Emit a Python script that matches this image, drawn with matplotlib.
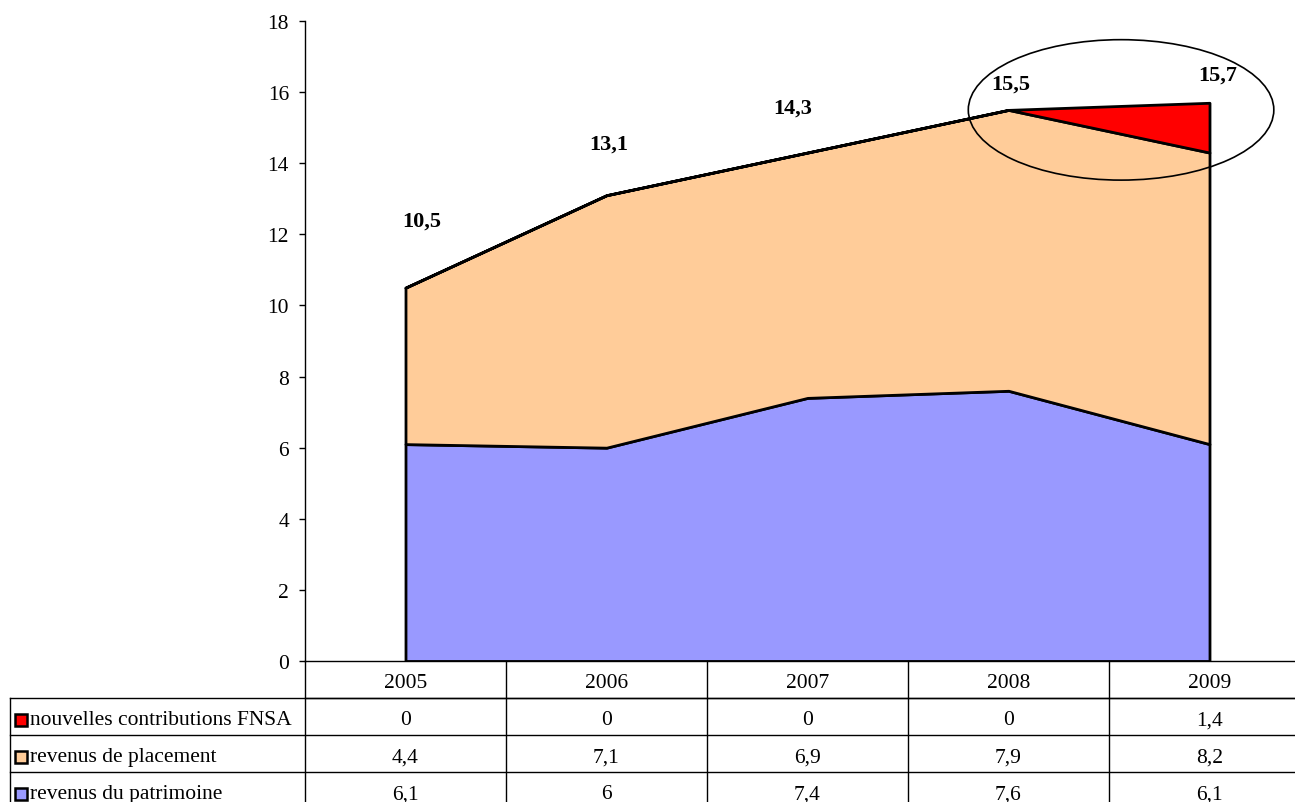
import matplotlib
matplotlib.use("Agg")
import matplotlib.pyplot as plt
from matplotlib.patches import Ellipse, Rectangle
from matplotlib.transforms import blended_transform_factory
import numpy as np

years = ["2005", "2006", "2007", "2008", "2009"]
patrimoine = [6.1, 6.0, 7.4, 7.6, 6.1]
placement = [4.4, 7.1, 6.9, 7.9, 8.2]
fnsa = [0, 0, 0, 0, 1.4]
series_names = ["nouvelles contributions FNSA", "revenus de placement", "revenus du patrimoine"]
y_ticks = [0, 2, 4, 6, 8, 10, 12, 14, 16, 18]

col_blue = "#9999FF"
col_orange = "#FFCC99"
col_red = "#FF0000"

plt.rcParams['font.family'] = ['Liberation Serif', 'DejaVu Serif']

W, H = 1295, 803
fig = plt.figure(figsize=(W / 100, H / 100), dpi=100)
ax = fig.add_axes([305 / W, 141 / H, 1005 / W, 640 / H])

x = np.arange(len(years)) + 0.5
ax.stackplot(x, patrimoine, placement, fnsa,
             colors=[col_blue, col_orange, col_red],
             edgecolor="black", linewidth=2.0)

ax.set_xlim(0, len(years))
ax.set_ylim(0, 18)
ax.set_yticks(y_ticks)
ax.set_yticklabels([str(t) for t in y_ticks], fontsize=15.5)
ax.tick_params(axis='y', direction='out', length=4.5, width=1, pad=7)
ax.set_xticks([])
for s in ["top", "right"]:
    ax.spines[s].set_visible(False)
ax.spines["left"].set_linewidth(1)
ax.spines["bottom"].set_linewidth(1)

# total labels
totals = [a + b + c for a, b, c in zip(patrimoine, placement, fnsa)]
label_offsets = [(16, 67), (2, 52), (-15, 45), (2, 26), (8, 28)]
for xi, t, (dx, dy) in zip(x, totals, label_offsets):
    ax.annotate(f"{t:.1f}".replace(".", ","), (xi, t), xytext=(dx, dy),
                textcoords="offset pixels", ha="center", va="center",
                fontsize=16, fontweight="bold")

# highlight ellipse around 2008-2009
ell = Ellipse((0.5 * (x[3] + x[4]) + 0.06, 15.5), width=1.52, height=3.95,
              fill=False, edgecolor="black", linewidth=1.2, clip_on=False)
ax.add_patch(ell)

# data table below
trans = blended_transform_factory(ax.transData, ax.transAxes)
row_h = 37.0 / 640
txt_shift = 3.5 / 640
left_x = -295 / 201
n = len(years)
fs = 15.5
# header row
ax.plot([0, n], [-row_h, -row_h], transform=trans, color="black", lw=1, clip_on=False)
for i in range(n + 1):
    ax.plot([i, i], [0, -4 * row_h], transform=trans, color="black", lw=1, clip_on=False)
for i, yr in enumerate(years):
    ax.text(i + 0.5, -0.5 * row_h - txt_shift, yr, transform=trans, ha="center", va="center",
            fontsize=fs, clip_on=False)
# data rows
rows = [fnsa, placement, patrimoine]
colors = [col_red, col_orange, col_blue]
ax.plot([left_x, left_x], [-row_h, -4 * row_h], transform=trans, color="black", lw=1, clip_on=False)
for r in range(4):
    yline = -(r + 1) * row_h
    ax.plot([left_x, n], [yline, yline], transform=trans, color="black", lw=1, clip_on=False)


def fmt(v):
    s = f"{v:g}"
    return s.replace(".", ",")


for r, (name, vals, c) in enumerate(zip(series_names, rows, colors)):
    yc = -(r + 1.5) * row_h - txt_shift
    sq = Rectangle((left_x + 0.025, yc - 6 / 640), 12 / 201, 12 / 640, transform=trans,
                   facecolor=c, edgecolor="black", linewidth=1.8, clip_on=False)
    ax.add_patch(sq)
    ax.text(left_x + 0.1, yc, name, transform=trans, ha="left", va="center",
            fontsize=fs, clip_on=False)
    for i, v in enumerate(vals):
        ax.text(i + 0.5, yc, fmt(v), transform=trans, ha="center", va="center",
                fontsize=fs, clip_on=False)

fig.savefig("out.png", dpi=100)
